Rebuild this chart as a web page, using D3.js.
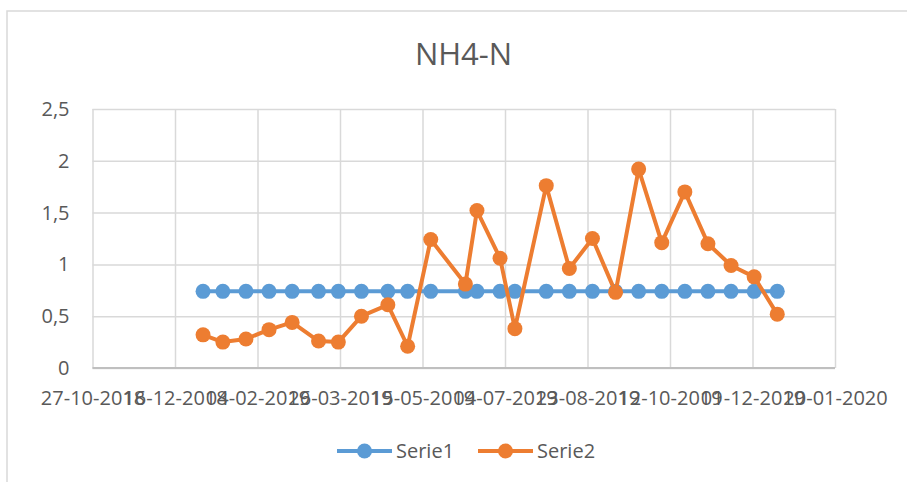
<!DOCTYPE html>
<html>
<head>
<meta charset="utf-8">
<script src="https://cdn.jsdelivr.net/npm/d3@7"></script>
<style>
  body { margin: 0; background: #fff; }
  svg { font-family: "Open Sans", sans-serif; }
</style>
</head>
<body>
<div id="chart"></div>
<script>
// sample dates
var dates = [
  "2019-01-02", "2019-01-14", "2019-01-28", "2019-02-11", "2019-02-25", "2019-03-13",
  "2019-03-25", "2019-04-08", "2019-04-24", "2019-05-06", "2019-05-20", "2019-06-10",
  "2019-06-17", "2019-07-01", "2019-07-10", "2019-07-29", "2019-08-12", "2019-08-26",
  "2019-09-09", "2019-09-23", "2019-10-07", "2019-10-21", "2019-11-04", "2019-11-18",
  "2019-12-02", "2019-12-16"
];

var serie1 = [
  0.74, 0.74, 0.74, 0.74, 0.74, 0.74, 0.74, 0.74, 0.74, 0.74, 0.74, 0.74, 0.74,
  0.74, 0.74, 0.74, 0.74, 0.74, 0.74, 0.74, 0.74, 0.74, 0.74, 0.74, 0.74, 0.74
];

var serie2 = [
  0.32, 0.25, 0.28, 0.37, 0.44, 0.26, 0.25, 0.50, 0.61, 0.21, 1.24, 0.81, 1.52,
  1.06, 0.38, 1.76, 0.96, 1.25, 0.73, 1.92, 1.21, 1.70, 1.20, 0.99, 0.88, 0.52
];

// x ticks, every 50 days
var xTicks = [
  "2018-10-27", "2018-12-16", "2019-02-04", "2019-03-26", "2019-05-15",
  "2019-07-04", "2019-08-23", "2019-10-12", "2019-12-01", "2020-01-20"
];
var yTicks = [0, 0.5, 1, 1.5, 2, 2.5];

var seriesNames = ["Serie1", "Serie2"];
var colors = ["#5b9bd5", "#ed7d31"];

var parse = d3.utcParse("%Y-%m-%d");
var fmt = d3.utcFormat("%d-%m-%Y");

var width = 907, height = 482;
var plotLeft = 92.5, plotRight = 835, plotTop = 109, plotBottom = 368;

var svg = d3.select("#chart")
  .append("svg")
  .attr("width", width)
  .attr("height", height);

// chart border
svg.append("rect")
  .attr("x", 7)
  .attr("y", 11)
  .attr("width", 1000)
  .attr("height", 1000)
  .attr("fill", "none")
  .attr("stroke", "#d9d9d9")
  .attr("stroke-width", 1.5);

var x = d3.scaleUtc()
  .domain([parse(xTicks[0]), parse(xTicks[xTicks.length - 1])])
  .range([plotLeft, plotRight]);

var y = d3.scaleLinear()
  .domain([0, 2.5])
  .range([plotBottom, plotTop]);

// horizontal grid + y labels
var yAxis = d3.axisLeft(y)
  .tickValues(yTicks)
  .tickSize(-(plotRight - plotLeft))
  .tickPadding(23)
  .tickFormat(function (d) { return String(d).replace(".", ","); });

var gy = svg.append("g")
  .attr("transform", "translate(" + plotLeft + ",0)")
  .call(yAxis);
gy.select(".domain").remove();
gy.selectAll("line").attr("stroke", "#d9d9d9").attr("stroke-width", 1.5);
gy.selectAll("text")
  .attr("fill", "#595959")
  .style("font-size", "20px")
  .style("font-family", "Open Sans");

// vertical grid + x labels
var xAxis = d3.axisBottom(x)
  .tickValues(xTicks.map(parse))
  .tickSize(-(plotBottom - plotTop))
  .tickPadding(0)
  .tickFormat(fmt);

var gx = svg.append("g")
  .attr("transform", "translate(0," + plotBottom + ")")
  .call(xAxis);
gx.select(".domain").remove();
gx.selectAll("line").attr("stroke", "#d9d9d9").attr("stroke-width", 1.5);
gx.selectAll("text")
  .attr("fill", "#595959")
  .attr("y", 37)
  .attr("dy", null)
  .style("font-size", "20px")
  .style("font-family", "Open Sans");

// bottom axis line
svg.append("line")
  .attr("x1", plotLeft)
  .attr("x2", plotRight)
  .attr("y1", plotBottom)
  .attr("y2", plotBottom)
  .attr("stroke", "#bfbfbf")
  .attr("stroke-width", 2);

// series
var line = d3.line()
  .x(function (d) { return x(d.date); })
  .y(function (d) { return y(d.value); });

[serie1, serie2].forEach(function (vals, k) {
  var pts = vals.map(function (v, i) { return { date: parse(dates[i]), value: v }; });
  svg.append("path")
    .datum(pts)
    .attr("d", line)
    .attr("fill", "none")
    .attr("stroke", colors[k])
    .attr("stroke-width", 4)
    .attr("stroke-linejoin", "round");
  svg.append("g")
    .selectAll("circle")
    .data(pts)
    .join("circle")
    .attr("cx", function (d) { return x(d.date); })
    .attr("cy", function (d) { return y(d.value); })
    .attr("r", 7.5)
    .attr("fill", colors[k]);
});

// title
svg.append("text")
  .attr("x", 463.5)
  .attr("y", 65)
  .attr("text-anchor", "middle")
  .attr("fill", "#595959")
  .style("font-size", "31px")
  .text("NH4-N");

// legend
var legendX = [337, 478];
seriesNames.forEach(function (name, k) {
  var g = svg.append("g").attr("transform", "translate(" + legendX[k] + ",451)");
  g.append("line")
    .attr("x1", 0).attr("x2", 55)
    .attr("y1", 0).attr("y2", 0)
    .attr("stroke", colors[k])
    .attr("stroke-width", 4);
  g.append("circle")
    .attr("cx", 27.5).attr("cy", 0).attr("r", 7.5)
    .attr("fill", colors[k]);
  g.append("text")
    .attr("x", 59)
    .attr("y", 7)
    .attr("fill", "#595959")
    .style("font-size", "20px")
    .text(name);
});
</script>
</body>
</html>
